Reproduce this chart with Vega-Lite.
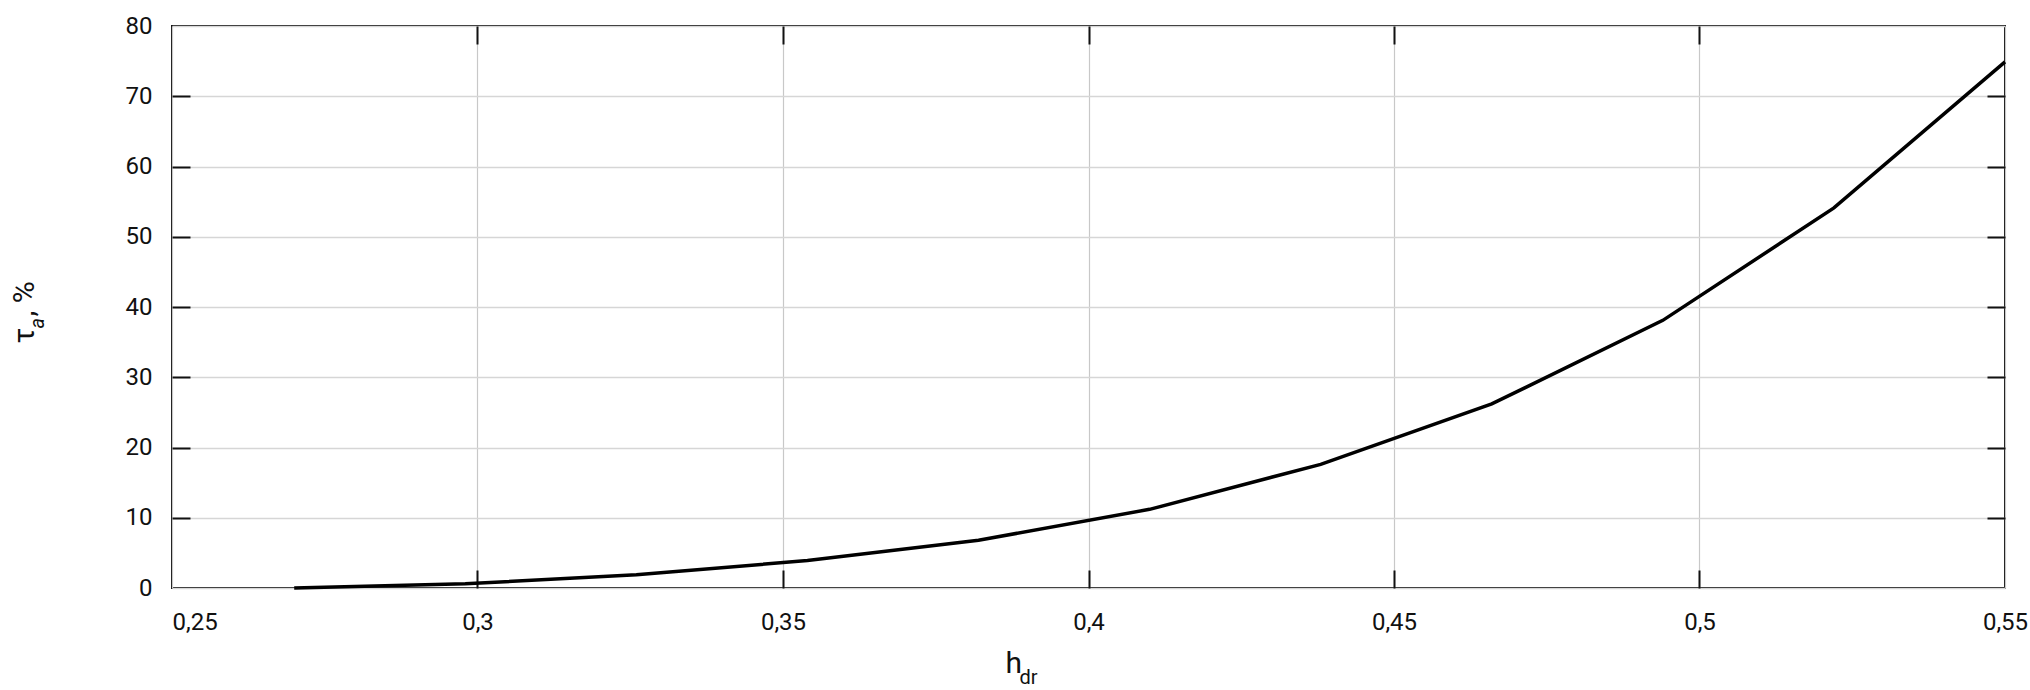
{
  "$schema": "https://vega.github.io/schema/vega-lite/v6.json",
  "width": 1833,
  "height": 562,
  "autosize": {"type": "none"},
  "padding": {"left": 172, "top": 26, "right": 25, "bottom": 102},
  "background": "white",
  "config": {
    "view": {"stroke": "#111111", "strokeWidth": 2},
    "font": "Roboto",
    "axis": {
      "labelFont": "Roboto",
      "titleFont": "Roboto",
      "labelColor": "#111111",
      "titleColor": "#111111",
      "domainColor": "#111111",
      "domainWidth": 2,
      "tickColor": "#111111",
      "tickWidth": 2,
      "labelFlush": false,
      "labelOverlap": false,
      "labelBound": false,
      "titleFontWeight": "normal"
    }
  },
  "data": {
    "values": [
      {"h": 0.27, "tau": 0},
      {"h": 0.298, "tau": 0.6},
      {"h": 0.326, "tau": 1.9},
      {"h": 0.354, "tau": 3.9},
      {"h": 0.382, "tau": 6.8},
      {"h": 0.41, "tau": 11.2},
      {"h": 0.438, "tau": 17.6},
      {"h": 0.466, "tau": 26.2},
      {"h": 0.494, "tau": 38.1},
      {"h": 0.522, "tau": 54.1},
      {"h": 0.55, "tau": 74.9}
    ]
  },
  "resolve": {"axis": {"x": "independent", "y": "independent"}},
  "layer": [
    {
      "mark": {"type": "line", "color": "#000000", "strokeWidth": 3.5},
      "encoding": {
        "x": {
          "field": "h", "type": "quantitative",
          "scale": {"domain": [0.25, 0.55], "nice": false, "zero": false},
          "axis": {
            "orient": "bottom",
            "values": [0.25, 0.3, 0.35, 0.4, 0.45, 0.5, 0.55],
            "format": ".2~f",
            "labelExpr": "replace(datum.label, '.', ',')",
            "labelFontSize": 24,
            "labelPadding": 22,
            "labelAlign": {"condition": {"test": "datum.value < 0.26", "value": "left"}, "value": "center"},
            "ticks": false,
            "grid": true,
            "gridColor": "#c8c8c8",
            "gridWidth": 1.2,
            "domain": false,
            "title": "h",
            "titleFontSize": 30,
            "titleX": 833,
            "titleY": 84,
            "titleAlign": "left",
            "titleBaseline": "alphabetic",
            "titleAngle": 0
          }
        },
        "y": {
          "field": "tau", "type": "quantitative",
          "scale": {"domain": [0, 80], "nice": false, "zero": false},
          "axis": {
            "orient": "left",
            "values": [0, 10, 20, 30, 40, 50, 60, 70, 80],
            "labelFontSize": 24,
            "labelPadding": 20,
            "ticks": false,
            "grid": true,
            "gridColor": "#d6d6d6",
            "gridWidth": 1.5,
            "domain": false,
            "title": "τ",
            "titleFontSize": 30,
            "titleX": -139,
            "titleY": 317,
            "titleAlign": "left",
            "titleBaseline": "alphabetic",
            "titleAngle": 270
          }
        }
      }
    },
    {
      "mark": {"type": "line", "opacity": 0},
      "encoding": {
        "x": {
          "field": "h", "type": "quantitative",
          "scale": {"domain": [0.25, 0.55], "nice": false, "zero": false},
          "axis": {
            "orient": "top",
            "offset": -18,
            "values": [0.3, 0.35, 0.4, 0.45, 0.5],
            "labels": false, "ticks": true, "tickSize": 18,
            "grid": false, "domain": false, "title": null
          }
        },
        "y": {
          "field": "tau", "type": "quantitative",
          "scale": {"domain": [0, 80], "nice": false, "zero": false},
          "axis": {
            "orient": "right",
            "offset": -18,
            "values": [10, 20, 30, 40, 50, 60, 70],
            "labels": false, "ticks": true, "tickSize": 18,
            "grid": false, "domain": false, "title": null
          }
        }
      }
    },
    {
      "mark": {"type": "line", "opacity": 0},
      "encoding": {
        "x": {
          "field": "h", "type": "quantitative",
          "scale": {"domain": [0.25, 0.55], "nice": false, "zero": false},
          "axis": {
            "orient": "bottom",
            "offset": -18,
            "values": [0.3, 0.35, 0.4, 0.45, 0.5],
            "labels": false, "ticks": true, "tickSize": 18,
            "grid": false, "domain": false,
            "title": "dr",
            "titleFontSize": 20,
            "titleX": 847,
            "titleY": 113,
            "titleAlign": "left",
            "titleBaseline": "alphabetic",
            "titleAngle": 0
          }
        },
        "y": {
          "field": "tau", "type": "quantitative",
          "scale": {"domain": [0, 80], "nice": false, "zero": false},
          "axis": {
            "orient": "left",
            "offset": -18,
            "values": [10, 20, 30, 40, 50, 60, 70],
            "labels": false, "ticks": true, "tickSize": 18,
            "grid": false, "domain": false,
            "title": "a",
            "titleFontSize": 20,
            "titleFontStyle": "italic",
            "titleX": -147,
            "titleY": 302,
            "titleAlign": "left",
            "titleBaseline": "alphabetic",
            "titleAngle": 270
          }
        }
      }
    },
    {
      "mark": {"type": "line", "opacity": 0},
      "encoding": {
        "x": {
          "field": "h", "type": "quantitative",
          "scale": {"domain": [0.25, 0.55], "nice": false, "zero": false},
          "axis": null
        },
        "y": {
          "field": "tau", "type": "quantitative",
          "scale": {"domain": [0, 80], "nice": false, "zero": false},
          "axis": {
            "orient": "left",
            "labels": false, "ticks": false,
            "grid": false, "domain": false,
            "title": ", %",
            "titleFontSize": 30,
            "titleX": -139,
            "titleY": 290,
            "titleAlign": "left",
            "titleBaseline": "alphabetic",
            "titleAngle": 270
          }
        }
      }
    }
  ]
}
